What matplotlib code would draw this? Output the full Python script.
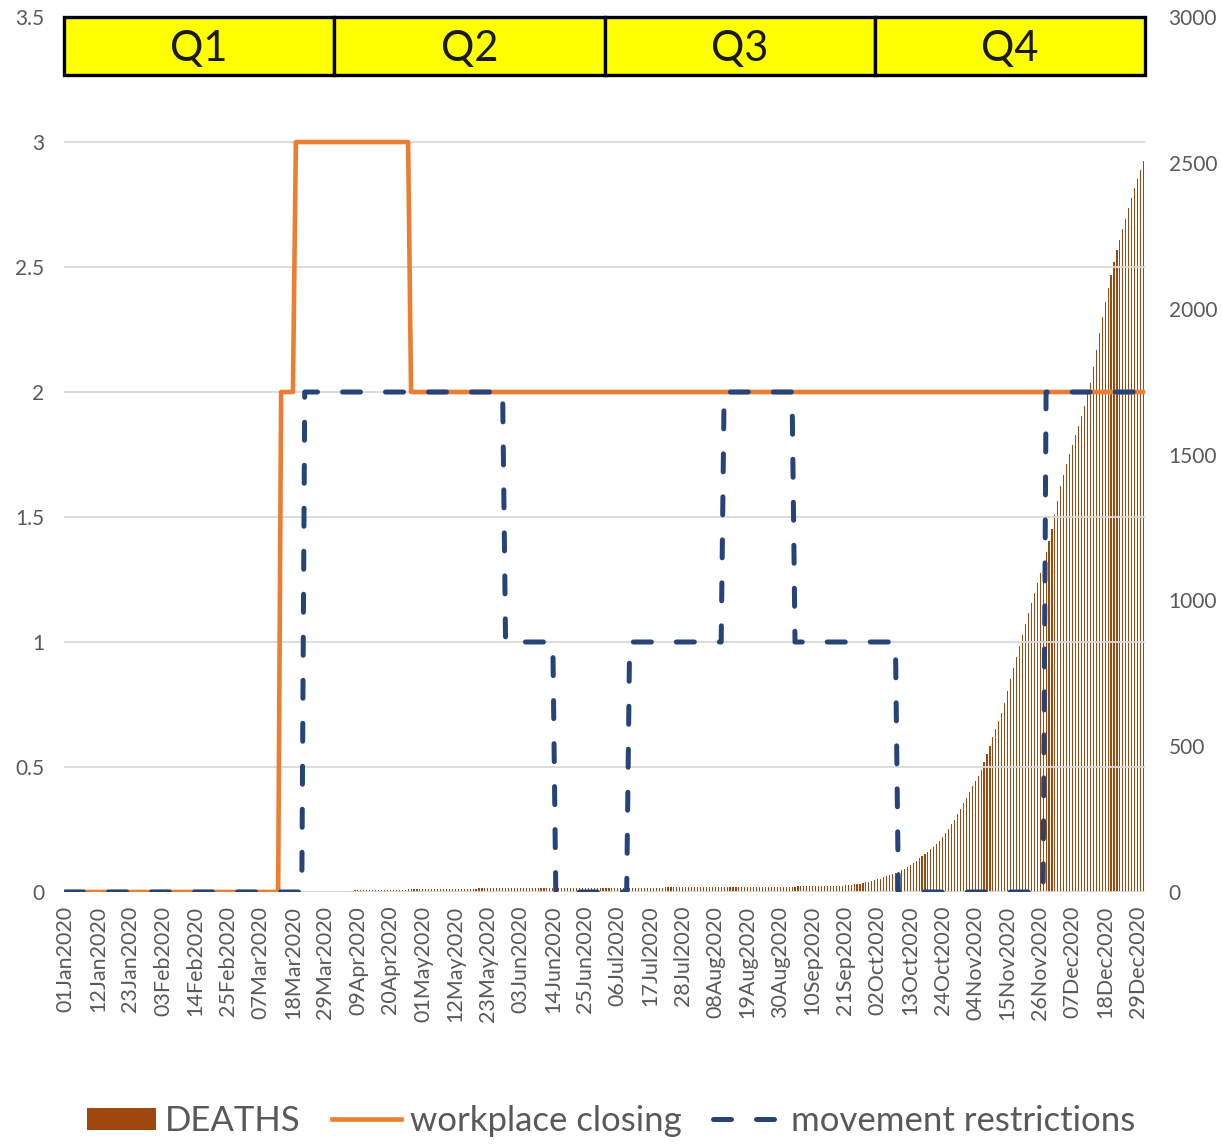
import numpy as np
import pandas as pd
import matplotlib
matplotlib.use("Agg")
import matplotlib.pyplot as plt
from matplotlib.patches import Rectangle, Patch
from matplotlib.lines import Line2D

plt.rcParams['font.family'] = ['Lato', 'DejaVu Sans']

# daily categories, 2020
dates = pd.date_range("2020-01-01", "2020-12-31", freq="D")
date_labels = [d.strftime("%d%b%Y") for d in dates]

# cumulative deaths (right axis), one value per day
deaths = (
    [0] * 75
    + [1, 1, 1, 1, 1, 2, 2, 2, 2, 3, 3, 3, 3, 4, 4, 4, 4, 5, 5, 5]
    + [5, 5, 5, 6, 6, 6, 6, 6, 7, 7, 7, 7, 7, 7, 8, 8, 8, 8, 8, 8,
       8, 9, 9, 9, 9, 9, 9, 9, 10, 10]
    + [10, 10, 10, 10, 10, 10, 11, 11, 11, 11, 11, 11, 11, 11, 11, 12, 12, 12, 12, 12,
       12, 12, 12, 12, 12, 12, 12, 12, 12, 12]
    + [12, 13, 13, 13, 13, 13, 13, 13, 13, 13, 13, 13, 13, 13, 13, 13, 13, 14, 14, 14,
       14, 14, 14, 14, 14, 14, 14, 14, 14, 14]
    + [14, 14, 15, 15, 15, 15, 15, 15, 15, 15, 15, 15, 15, 15, 15, 15, 15, 15, 16, 16,
       16, 16, 16, 16, 16, 16, 16, 16, 16, 16]
    + [16, 16, 16, 16, 16, 17, 17, 17, 17, 17, 17, 17, 17, 17, 17, 17, 17, 17, 17, 17,
       18, 18, 18, 18, 18, 18, 18, 18, 18, 18]
    + [18, 18, 18, 19, 19, 19, 19, 19, 19, 19, 20, 20, 20, 20, 21, 21, 21, 22, 22, 23]
    + [24, 25, 26, 27, 29, 31, 33, 35, 38, 40, 43, 46, 50, 54, 58, 62, 66, 70, 75, 80,
       86, 92, 99, 106, 115, 124, 131, 138, 146, 155, 165, 176, 188, 202, 216, 232, 248, 266, 286, 304,
       322, 342, 362, 380, 398, 418, 444, 472, 502, 530, 558, 586, 614, 648, 690, 730, 768, 806, 842, 880,
       918, 956, 990, 1024, 1058, 1094, 1130, 1166, 1204, 1246, 1292, 1340, 1392, 1430, 1468, 1502, 1534, 1566, 1598, 1632,
       1668, 1706, 1746, 1800, 1860, 1918, 1972, 2022, 2070, 2116, 2160, 2200, 2236, 2272, 2308, 2344, 2380, 2414, 2446, 2476,
       2508]
)

# policy levels: day index where each level starts
workplace_start = [0, 73, 78, 117]
workplace_level = [0, 2, 3, 2]
movement_start = [0, 81, 149, 166, 191, 223, 247, 282, 332]
movement_level = [0, 2, 1, 0, 1, 2, 1, 0, 2]

quarters = ["Q1", "Q2", "Q3", "Q4"]

n = len(dates)
x = np.arange(n)


def expand(starts, levels):
    return np.repeat(levels, np.diff([*starts, n]))


workplace = expand(workplace_start, workplace_level)
movement = expand(movement_start, movement_level)

GRAY = '#595959'

fig = plt.figure(figsize=(12.22, 11.44), dpi=100)
ax_bar = fig.add_axes([0.0524, 0.2203, 0.8846, 0.7648])
ax = ax_bar.twinx()

ax_bar.bar(x, deaths, width=0.38, color='#9E480E', linewidth=0)
ax_bar.set_ylim(0, 3000)
ax_bar.set_yticks(range(0, 3001, 500))
ax_bar.yaxis.tick_right()
ax_bar.set_xlim(-0.5, n - 0.5)
ax_bar.set_xticks(x[::11])
ax_bar.set_xticklabels(date_labels[::11], rotation=90, va='top')
ax_bar.tick_params(axis='x', length=0, pad=10, labelsize=15.5, labelcolor=GRAY)
ax_bar.tick_params(axis='y', length=0, pad=17, labelsize=15, labelcolor=GRAY)

ax.yaxis.tick_left()
ax.set_ylim(0, 3.5)
ax.set_yticks(np.arange(0, 3.51, 0.5))
ax.set_yticklabels(['0', '0.5', '1', '1.5', '2', '2.5', '3', '3.5'])
ax.tick_params(axis='y', length=0, pad=14, labelsize=15, labelcolor=GRAY)
ax.grid(axis='y', color='#D9D9D9', linewidth=1.3)

for a in (ax, ax_bar):
    for s in a.spines.values():
        s.set_visible(False)

ax.plot(x, workplace, color='#ED7D31', linewidth=3.3, solid_joinstyle='round')
ax.plot(x, movement, color='#264478', linewidth=3.6, dashes=(3.6, 5.0),
        dash_capstyle='round')

# quarter boxes across the top
qw = n / 4
for k, q in enumerate(quarters):
    x0 = -0.5 + k * qw
    ax.add_patch(Rectangle((x0, 3.268), qw, 3.5 - 3.268, facecolor='#FFFF00',
                           edgecolor='black', linewidth=2.4, clip_on=False, zorder=5))
    ax.text(x0 + qw / 2, 3.374, q, ha='center', va='center',
            fontsize=30, color='#1a1a1a', zorder=6)

handles = [
    Patch(facecolor='#9E480E'),
    Line2D([], [], color='#ED7D31', linewidth=3.3),
    Line2D([], [], color='#264478', linewidth=3.6, dashes=(3.6, 5.0), dash_capstyle='round'),
]
fig.legend(handles, ["DEATHS", "workplace closing", "movement restrictions"],
           loc='lower center', bbox_to_anchor=(0.5, -0.021), ncol=3, frameon=False,
           fontsize=25, handlelength=2.0, handleheight=0.6, handletextpad=0.25,
           columnspacing=0.9, labelcolor=GRAY)

fig.savefig("out.png", dpi=100)
